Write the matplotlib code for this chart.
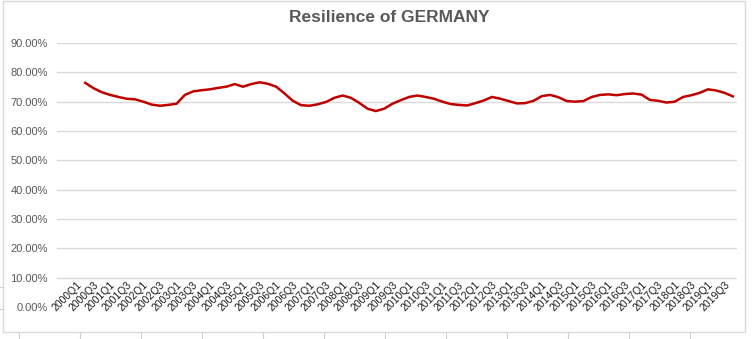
import matplotlib.pyplot as plt
import matplotlib.transforms as mtransforms
from matplotlib.patches import Rectangle
from matplotlib.ticker import PercentFormatter

# Quarterly resilience score for Germany, 2000Q1 - 2019Q3 (percent)
years = list(range(2000, 2020))
quarters = [f"{y}Q{q}" for y in years for q in (1, 2, 3, 4)][:79]
resilience = [
    76.4, 74.6, 73.2, 72.3, 71.6, 71.0, 70.8, 70.0, 69.0, 68.6,
    68.9, 69.3, 72.3, 73.5, 73.9, 74.2, 74.7, 75.1, 76.0, 75.1,
    76.0, 76.6, 76.1, 75.1, 72.8, 70.3, 68.8, 68.6, 69.1, 69.9,
    71.3, 72.1, 71.3, 69.6, 67.6, 66.8, 67.6, 69.3, 70.5, 71.6,
    72.1, 71.6, 71.0, 70.0, 69.2, 68.9, 68.7, 69.5, 70.4, 71.6,
    71.0, 70.2, 69.4, 69.5, 70.3, 71.9, 72.3, 71.5, 70.2, 70.0,
    70.2, 71.6, 72.3, 72.5, 72.2, 72.6, 72.8, 72.4, 70.6, 70.3,
    69.7, 70.0, 71.6, 72.2, 73.0, 74.2, 73.8, 73.0, 71.8,
]

plt.rcParams['font.family'] = ['Liberation Sans', 'DejaVu Sans']

fig = plt.figure(figsize=(7.54, 3.39), dpi=100)
W, H = 754, 339

# chart frame and a few spreadsheet cell lines around it
fig.patches.append(Rectangle((3 / W, 1 - 332 / H), 742 / W, 331 / H,
                             transform=fig.transFigure, fill=False,
                             edgecolor='#d9d9d9', linewidth=1))
for cx in [19, 80, 141, 202, 263, 324, 385, 446, 507, 568, 629, 690]:
    fig.add_artist(plt.Line2D([cx / W, cx / W], [0, 1 - 333 / H],
                              transform=fig.transFigure, color='#d0d0d0', lw=0.8))
for cy in [287, 309]:
    fig.add_artist(plt.Line2D([0, 3 / W], [1 - cy / H, 1 - cy / H],
                              transform=fig.transFigure, color='#d0d0d0', lw=0.8))

ax = fig.add_axes([57 / W, 1 - 307 / H, 680 / W, 264 / H])

x = list(range(len(resilience)))
ax.plot(x, [v / 100 for v in resilience], color='#c00000', linewidth=1.8)

ax.set_ylim(0, 0.9)
ax.set_yticks([i / 10 for i in range(10)])
ax.yaxis.set_major_formatter(PercentFormatter(1.0, decimals=2))
ax.set_xlim(-3.4, 78.5)
ax.set_xticks(x[::2])
ax.set_xticklabels(quarters[::2], rotation=45, ha='right', va='center',
                   rotation_mode='anchor', fontsize=7.5, color='#1a1a1a')

ax.tick_params(axis='y', length=0, pad=6.5, labelsize=8, labelcolor='#595959')
ax.tick_params(axis='x', length=0, pad=-17)
offset = mtransforms.ScaledTranslation(-5 / 100, 0, fig.dpi_scale_trans)
for lbl in ax.get_xticklabels():
    lbl.set_transform(lbl.get_transform() + offset)

ax.grid(axis='y', color='#d9d9d9', linewidth=1)
ax.yaxis.get_gridlines()[0].set_visible(False)
ax.set_axisbelow(True)
for side in ax.spines.values():
    side.set_visible(False)

fig.text(0.5 * (57 + 737) / W - 0.01, 1 - 17 / H, 'Resilience of GERMANY',
         ha='center', va='center', fontsize=12.5, fontweight='bold',
         color='#595959')

fig.savefig('out.png', dpi=100)
